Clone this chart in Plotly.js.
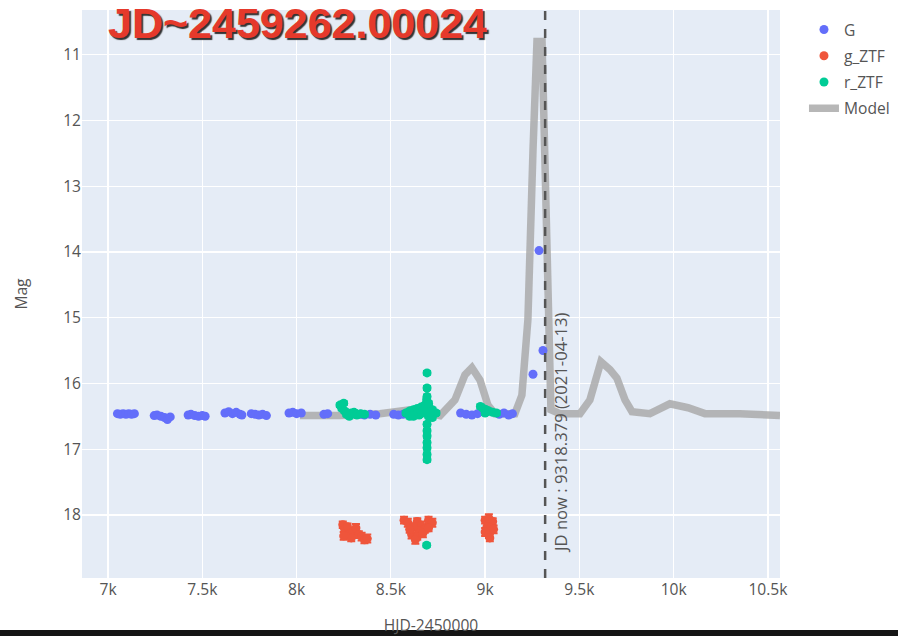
<!DOCTYPE html>
<html>
<head>
<meta charset="utf-8">
<script src="https://cdn.plot.ly/plotly-3.0.1.min.js"></script>
<style>html,body{margin:0;padding:0;background:#fff;}</style>
</head>
<body>
<div id="chart" style="width:898px;height:636px;"></div>
<script>
// ---- Data ----
const G_x = [7050,7065,7080,7095,7110,7125,7140,
  7245,7260,7280,7300,7315,7330,
  7425,7440,7460,7480,7500,7515,
  7620,7640,7660,7680,7700,7710,
  7760,7780,7800,7820,7840,
  7960,7980,8000,8025,
  8145,8165,
  8340,8360,8390,8420,
  8515,8540,8565,
  8870,8900,8930,8960,
  9075,9100,9125,9145,
  9254,9286,9307];
const G_mag = [16.46,16.47,16.46,16.47,16.46,16.47,16.46,
  16.49,16.48,16.50,16.52,16.55,16.51,
  16.48,16.47,16.49,16.50,16.49,16.50,
  16.45,16.43,16.46,16.44,16.47,16.48,
  16.46,16.47,16.48,16.47,16.49,
  16.45,16.44,16.46,16.45,
  16.47,16.46,
  16.47,16.48,16.47,16.48,
  16.47,16.48,16.47,
  16.45,16.47,16.48,16.46,
  16.47,16.45,16.48,16.46,
  15.86,13.98,15.50];

const gZTF_x = [8245,8255,8270,8285,8300,8315,8330,8345,8360,8375,8290,8250,
  8570,8590,8640,8660,8700,8720,8680,8650,8620,8610,8640,8670,8700,8630,8600,
  9000,9020,9040,9010,9030,9000,9020,9045,9025];
const gZTF_mag = [18.15,18.22,18.18,18.28,18.25,18.20,18.30,18.33,18.38,18.36,18.35,18.32,
  18.08,18.12,18.10,18.16,18.08,18.12,18.22,18.25,18.18,18.30,18.33,18.28,18.20,18.38,18.22,
  18.08,18.05,18.10,18.18,18.20,18.26,18.30,18.22,18.35];
const gZTF_err = [0.05,0.06,0.05,0.06,0.05,0.06,0.05,0.06,0.05,0.06,0.05,0.06,
  0.05,0.06,0.05,0.06,0.05,0.06,0.05,0.06,0.05,0.06,0.05,0.06,0.05,0.06,0.05,
  0.05,0.06,0.05,0.06,0.05,0.06,0.05,0.06,0.05];

const rZTF_x = [8230,8240,8255,8265,8280,8290,8305,8320,8340,8360,8250,
  8580,8600,8620,8640,8660,8680,8700,8720,8740,8600,8650,8700,8720,8680,8640,8690,8700,8670,8710,8620,
  8692,8692,8692,8692,8692,8692,8692,8692,8692,8692,
  8690,
  8975,8990,9005,9020,9040,9060,9000];
const rZTF_mag = [16.33,16.38,16.42,16.47,16.50,16.45,16.44,16.48,16.46,16.47,16.30,
  16.45,16.42,16.40,16.38,16.36,16.33,16.35,16.40,16.45,16.50,16.48,16.50,16.52,16.45,16.46,16.25,16.30,16.42,16.44,16.50,
  15.84,16.07,16.20,16.62,16.72,16.80,16.90,16.98,17.08,17.16,
  18.46,
  16.35,16.38,16.40,16.42,16.44,16.45,16.45];
const rZTF_err = rZTF_x.map(() => 0.03);

const model_x = [8018,8230,8442,8602,8761,8840,8893,8930,8973,9015,9052,9158,9195,9227,9254,9275,9302,9318,9333,9349,9397,9503,9556,9614,9662,9699,9742,9779,9874,9980,10076,10166,10351,10564];
const model_mag = [16.49,16.49,16.46,16.40,16.49,16.25,15.87,15.76,15.95,16.33,16.46,16.46,16.18,15.03,12.45,10.80,10.80,12.90,15.49,16.40,16.46,16.46,16.25,15.67,15.79,15.92,16.25,16.43,16.46,16.31,16.37,16.46,16.46,16.49];

const jdNow = 9318.379;
const jdNowLabel = "JD now : 9318.379 (2021-04-13)";
const titleText = "JD~2459262.00024";
const xTickVals = [7000,7500,8000,8500,9000,9500,10000,10500];
const xTickText = ["7k","7.5k","8k","8.5k","9k","9.5k","10k","10.5k"];

// ---- Traces ----
const FS = 15.6;
const traces = [
  {x: model_x, y: model_mag, mode: 'lines', name: 'Model', legendrank: 4, legendgroup: 'm',
   line: {color: 'rgba(170,170,170,0.85)', width: 7.5}},
  {x: G_x, y: G_mag, mode: 'markers', name: 'G', legendrank: 1, legendgroup: 'a',
   marker: {color: '#636efa', size: 9}},
  {x: gZTF_x, y: gZTF_mag, mode: 'markers', name: 'g_ZTF', legendrank: 2, legendgroup: 'b',
   marker: {color: '#EF553B', size: 9},
   error_y: {type: 'data', array: gZTF_err, color: '#EF553B', thickness: 2, width: 4}},
  {x: rZTF_x, y: rZTF_mag, mode: 'markers', name: 'r_ZTF', legendrank: 3, legendgroup: 'c',
   marker: {color: '#00cc96', size: 9},
   error_y: {type: 'data', array: rZTF_err, color: '#00cc96', thickness: 2, width: 4}}
];

const layout = {
  width: 898, height: 636,
  margin: {l: 82, r: 118, t: 10, b: 58},
  paper_bgcolor: '#ffffff',
  plot_bgcolor: '#E5ECF6',
  font: {family: '"Open Sans", "Noto Sans", sans-serif', size: FS, color: '#555'},
  showlegend: true,
  legend: {font: {size: FS, color: '#555'}, xref: 'container', x: 0.8953, y: 0.995,
           xanchor: 'left', yanchor: 'top', tracegroupgap: 3},
  xaxis: {
    range: [6862, 10564],
    tickvals: xTickVals, ticktext: xTickText,
    gridcolor: '#ffffff', gridwidth: 1.3, zeroline: false, showline: false,
    title: {text: 'HJD-2450000', font: {size: FS, color: '#555'}, standoff: 24},
    automargin: false
  },
  yaxis: {
    range: [18.96, 10.32],
    dtick: 1,
    gridcolor: '#ffffff', gridwidth: 1.3, zeroline: false, showline: false,
    title: {text: 'Mag', font: {size: FS, color: '#555'}, standoff: 31},
    automargin: false
  },
  shapes: [
    {type: 'line', xref: 'x', yref: 'paper', x0: jdNow, x1: jdNow, y0: 0, y1: 1,
     line: {color: '#555', width: 2.5, dash: 'dash'}},
    {type: 'rect', xref: 'paper', yref: 'paper', x0: -0.2, x1: 1.3, y0: -0.104, y1: -0.0915,
     fillcolor: '#151515', line: {width: 0}, layer: 'above'}
  ],
  annotations: [
    {text: jdNowLabel, x: jdNow, xref: 'x', y: 0.04, yref: 'paper',
     xanchor: 'left', yanchor: 'bottom', textangle: -90, showarrow: false, xshift: 2,
     font: {size: 16.6, color: '#555'}},
    {text: '<b>' + titleText + '</b>', x: 0.036, xref: 'paper', y: 0.977, yref: 'paper',
     xanchor: 'left', yanchor: 'middle', showarrow: false, borderpad: 0,
     font: {family: '"Liberation Sans", Arial, sans-serif', size: 43, color: '#e5392b',
            shadow: '2px 2px 1px #333'}}
  ]
};

Plotly.newPlot('chart', traces, layout, {displayModeBar: false, staticPlot: true});
</script>
</body>
</html>
